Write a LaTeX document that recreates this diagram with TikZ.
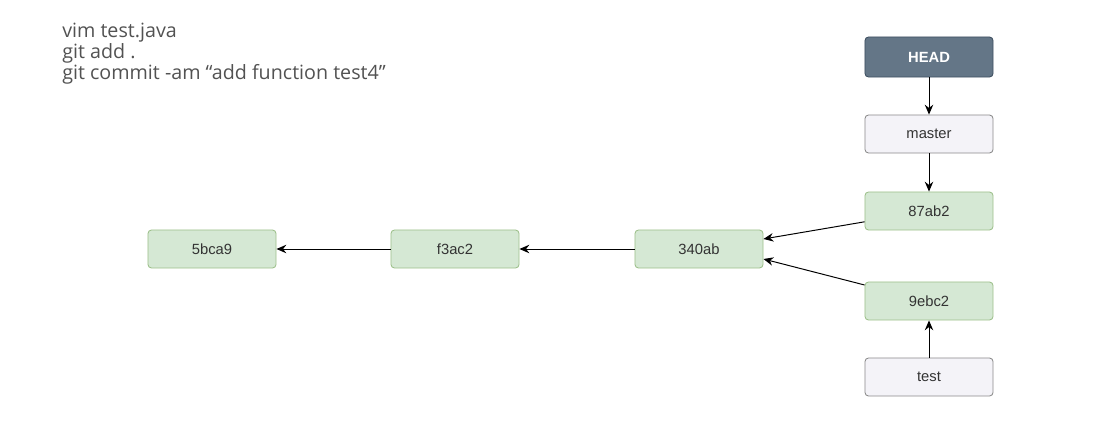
\documentclass[tikz,border=0pt]{standalone}
\usepackage{fontspec}
\setmainfont{Liberation Sans}
\newfontfamily\cmdfont{Open Sans}
\usetikzlibrary{arrows.meta}
\definecolor{commitfill}{HTML}{D5E8D4}
\definecolor{commitline}{HTML}{9DC08B}
\definecolor{headfill}{HTML}{647687}
\definecolor{headline}{HTML}{3E4F60}
\definecolor{reffill}{HTML}{F4F3F8}
\definecolor{refline}{HTML}{8A8A8A}
\definecolor{labeltext}{HTML}{333333}
\tikzset{
  box/.style={rounded corners=2.5pt, minimum width=3.2cm, minimum height=0.95cm,
    line width=0.6pt, font=\fontsize{10.5}{12}\selectfont, text=labeltext},
  commit/.style={box, fill=commitfill, draw=commitline},
  branch/.style={box, fill=reffill, draw=refline},
  headbox/.style={box, minimum height=1cm, fill=headfill, draw=headline,
    text=white, font=\fontsize{10.5}{12}\selectfont\bfseries},
  link/.style={line width=0.7pt, -{Stealth[length=7pt,width=6pt]}}
}
\begin{document}
\begin{tikzpicture}[x=0.025cm, y=-0.025cm]
        \useasboundingbox (0,0) rectangle (1109,433);

        \node[anchor=north west, align=left, inner sep=0pt, text=labeltext!85,
              font=\cmdfont\fontsize{14}{14.9}\selectfont] (cmds) at (62,23)
              {vim test.java\\git add .\\git commit -am “add function test4”};

        \node[headbox] (head) at (929,57) {HEAD};
        \node[branch] (master) at (929,134) {master};
        \node[commit] (c87ab2) at (929,211) {87ab2};
        \node[commit] (c9ebc2) at (929,301) {9ebc2};
        \node[branch] (test) at (929,377) {test};

        \node[commit] (c340ab) at (699,249) {340ab};
        \node[commit] (cf3ac2) at (455,249) {f3ac2};
        \node[commit] (c5bca9) at (212,249) {5bca9};

        \draw[link] (head) -- (master);
        \draw[link] (master) -- (c87ab2);
        \draw[link] (test) -- (c9ebc2);
        \draw[link] ([yshift=-0.27cm]c87ab2.west) -- ([yshift=0.25cm]c340ab.east);
        \draw[link] ([yshift=0.4cm]c9ebc2.west) -- ([yshift=-0.25cm]c340ab.east);
        \draw[link] (c340ab) -- (cf3ac2);
        \draw[link] (cf3ac2) -- (c5bca9);
    \end{tikzpicture}
\end{document}
